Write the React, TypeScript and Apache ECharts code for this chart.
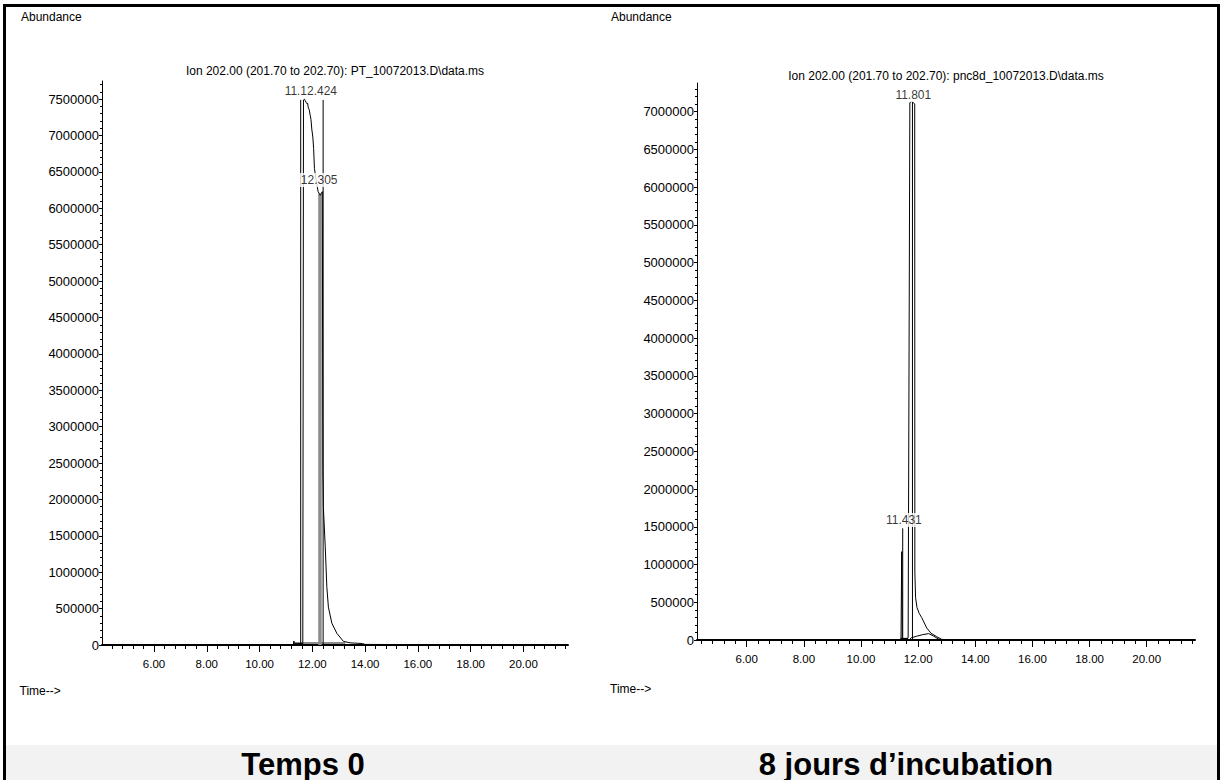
import React, { useEffect, useRef } from "react";
import * as echarts from "echarts";

const FONT = "'Liberation Sans', Arial, Helvetica, sans-serif";

// ---------- Panel 1 : Temps 0 (PT_10072013) ----------
const titleT0 = "Ion 202.00 (201.70 to 202.70): PT_10072013.D\\data.ms";
const timeRangeT0: [number, number] = [4.03, 21.69];
const abundanceMaxT0 = 7750000;
const traceT0: [number, number][] = [
  [4.03, 0], [6.0, 0], [8.0, 0], [10.0, 0], [11.28, 0], [11.30, 55000], [11.32, 20000],
  [11.45, 20000], [11.64, 20000], [11.666, 7490000], [11.70, 7500000], [11.73, 7480000],
  [11.76, 7460000], [11.79, 7440000], [11.82, 7445000], [11.85, 7380000], [11.88, 7360000],
  [11.92, 7280000], [11.95, 7220000], [11.98, 7090000], [12.02, 6980000], [12.05, 6820000],
  [12.08, 6550000], [12.14, 6400000], [12.22, 6230000], [12.30, 6180000], [12.38, 6230000],
  [12.40, 2400000], [12.42, 1890000], [12.49, 1350000], [12.55, 800000], [12.61, 520000],
  [12.74, 300000], [12.93, 160000], [13.18, 50000], [13.43, 30000], [13.9, 20000],
  [14.0, 8000], [16.0, 5000], [21.69, 5000],
];
const markerLinesT0: [number, number][] = [[11.56, 7490000], [12.41, 7490000]];
const grayLinesT0: [number, number][] = [[12.29, 6200000]];
const baselineT0: [number, number][] = [[11.31, 27000], [13.25, 27000]];
const peakLabelsT0: [number, number, string][] = [
  [11.25, 7610000, "11."],
  [12.24, 7610000, "12.424"],
  [12.26, 6390000, "12.305"],
];

// ---------- Panel 2 : 8 jours (pnc8d_10072013) ----------
const titleT8 = "Ion 202.00 (201.70 to 202.70): pnc8d_10072013.D\\data.ms";
const timeRangeT8: [number, number] = [4.26, 21.69];
const abundanceMaxT8 = 7380000;
const traceT8: [number, number][] = [
  [4.26, 0], [8.0, 0], [11.38, 0], [11.40, 15000], [11.425, 1170000], [11.445, 15000],
  [11.60, 15000], [11.65, 30000], [11.71, 7120000], [11.76, 7135000], [11.82, 7125000],
  [11.88, 7100000], [11.885, 900000], [11.91, 560000], [11.96, 430000], [12.04, 350000],
  [12.12, 300000], [12.30, 160000], [12.45, 90000], [12.65, 44000], [12.82, 9000],
  [13.0, 3000], [21.69, 0],
];
const humpT8: [number, number][] = [
  [11.70, 5000], [11.76, 30000], [11.95, 50000], [12.15, 70000], [12.37, 85000],
  [12.55, 50000], [12.70, 15000], [12.82, 0],
];
const markerLinesT8: [number, number][] = [[11.801, 7130000], [11.46, 1480000]];
const baselineT8: [number, number][] = [[11.38, 15000], [11.65, 15000]];
const peakLabelsT8: [number, number, string][] = [
  [11.83, 7220000, "11.801"],
  [11.50, 1590000, "11.431"],
];

// ---------- tick labels ----------
const timeTickLabels = [6, 8, 10, 12, 14, 16, 18, 20];
const abundanceTicksT0 = [0, 500000, 1000000, 1500000, 2000000, 2500000, 3000000, 3500000,
  4000000, 4500000, 5000000, 5500000, 6000000, 6500000, 7000000, 7500000];
const abundanceTicksT8 = [0, 500000, 1000000, 1500000, 2000000, 2500000, 3000000, 3500000,
  4000000, 4500000, 5000000, 5500000, 6000000, 6500000, 7000000];

const captions = ["Temps 0", "8 jours d\u2019incubation"];

function minorTicks(start: number, end: number, step: number, skipEvery: number) {
  const out: number[] = [];
  const n = Math.round((end - start) / step);
  for (let i = 0; i <= n; i++) {
    const v = +(start + i * step).toFixed(6);
    const r = v / skipEvery;
    if (Math.abs(r - Math.round(r)) > 1e-6) out.push(v);
  }
  return out;
}

function xAxesFor(grid: number, range: [number, number]) {
  const base = {
    type: "value" as const, gridIndex: grid, min: range[0], max: range[1],
    position: "bottom" as const, offset: 0, splitLine: { show: false }, axisPointer: { show: false },
  };
  return [
    {
      ...base,
      axisLine: { show: true, onZero: false, lineStyle: { color: "#000", width: 2 } },
      axisTick: { show: true, customValues: timeTickLabels, length: 7, lineStyle: { color: "#000", width: 1 } },
      axisLabel: {
        show: true, customValues: timeTickLabels, margin: 12.5,
        formatter: (v: number) => v.toFixed(2), color: "#000", fontFamily: FONT, fontSize: 11.5,
      },
    },
    {
      ...base,
      axisLine: { show: false, onZero: false },
      axisTick: { show: true, customValues: minorTicks(4.4, 21.6, 0.4, 2), length: 4, lineStyle: { color: "#000", width: 1 } },
      axisLabel: { show: false },
    },
  ];
}

function yAxesFor(grid: number, max: number, majors: number[]) {
  const base = {
    type: "value" as const, gridIndex: grid, min: 0, max,
    position: "left" as const, offset: 0, splitLine: { show: false }, axisPointer: { show: false },
  };
  return [
    {
      ...base,
      axisLine: { show: true, onZero: false, lineStyle: { color: "#000", width: 1 } },
      axisTick: { show: true, customValues: majors, length: 3, lineStyle: { color: "#000", width: 1 } },
      axisLabel: {
        show: true, customValues: majors, margin: 3,
        formatter: (v: number) => String(v), color: "#000", fontFamily: FONT, fontSize: 13,
      },
    },
    {
      ...base,
      axisLine: { show: false, onZero: false },
      axisTick: {
        show: true, customValues: minorTicks(100000, Math.floor(max / 100000) * 100000, 100000, 500000),
        length: 2, lineStyle: { color: "#000", width: 1 },
      },
      axisLabel: { show: false },
    },
  ];
}

function lineSeries(xi: number, yi: number, data: [number, number][], color: string, width: number) {
  return {
    type: "line", xAxisIndex: xi, yAxisIndex: yi, data, showSymbol: false, symbol: "none",
    lineStyle: { color, width }, silent: true, clip: true, z: 3,
  };
}

function verticals(xi: number, yi: number, list: [number, number][], color: string, width: number) {
  return list.map(([t, top]) => lineSeries(xi, yi, [[t, 0], [t, top]], color, width));
}

function labelSeries(xi: number, yi: number, list: [number, number, string][]) {
  return {
    type: "scatter", xAxisIndex: xi, yAxisIndex: yi, symbolSize: 1, silent: true, z: 10,
    itemStyle: { color: "rgba(0,0,0,0)" },
    data: list.map((d) => [d[0], d[1], d[2]]),
    label: {
      show: true, position: "inside", formatter: (p: any) => p.value[2],
      color: "#000", fontFamily: FONT, fontSize: 12, backgroundColor: "#fff", padding: [1, 1],
    },
  };
}

function text(x: number, y: number, str: string, size: number, align: string, weight = "normal") {
  return {
    type: "text", x, y, silent: true, z: 10,
    style: { text: str, fill: "#000", fontFamily: FONT, fontSize: size, fontWeight: weight, align, verticalAlign: "middle" },
  };
}

export default function App() {
  const ref = useRef<HTMLDivElement>(null);
  useEffect(() => {
    if (!ref.current) return;
    const chart = echarts.init(ref.current, undefined, { renderer: "svg" });
    const option: any = {
      animation: false,
      backgroundColor: "#fff",
      grid: [
        { left: 102, top: 81, width: 466, height: 564, containLabel: false },
        { left: 697, top: 83, width: 498, height: 557, containLabel: false },
      ],
      xAxis: [...xAxesFor(0, timeRangeT0), ...xAxesFor(1, timeRangeT8)],
      yAxis: [...yAxesFor(0, abundanceMaxT0, abundanceTicksT0), ...yAxesFor(1, abundanceMaxT8, abundanceTicksT8)],
      series: [
        lineSeries(0, 0, baselineT0, "#8c8c8c", 2),
        ...verticals(0, 0, grayLinesT0, "#8c8c8c", 3.5),
        ...verticals(0, 0, markerLinesT0, "#000", 1),
        lineSeries(0, 0, traceT0, "#000", 1),
        labelSeries(0, 0, peakLabelsT0),
        lineSeries(2, 2, baselineT8, "#000", 2),
        lineSeries(2, 2, humpT8, "#000", 1),
        ...verticals(2, 2, markerLinesT8, "#000", 1),
        lineSeries(2, 2, traceT8, "#000", 1),
        labelSeries(2, 2, peakLabelsT8),
      ],
      graphic: [
        { type: "rect", silent: true, z: 1, shape: { x: 6, y: 745, width: 1211, height: 40 }, style: { fill: "#f2f2f2" } },
        { type: "rect", silent: true, z: 2, shape: { x: 4.5, y: 5.5, width: 1214, height: 800 }, style: { fill: "none", stroke: "#000", lineWidth: 3 } },
        text(21, 16.5, "Abundance", 12, "left"),
        text(611, 17, "Abundance", 12, "left"),
        text(335, 71, titleT0, 12, "center"),
        text(946, 75.5, titleT8, 12, "center"),
        text(19.5, 691, "Time-->", 12, "left"),
        text(610, 689, "Time-->", 12, "left"),
        text(303, 764, captions[0], 31, "center", "bold"),
        text(906, 764, captions[1], 31, "center", "bold"),
      ],
    };
    chart.setOption(option);
    return () => chart.dispose();
  }, []);
  return (
    <div
      ref={ref}
      style={{ position: "fixed", left: 0, top: 0, width: 1221, height: 780, background: "#fff" }}
    />
  );
}
